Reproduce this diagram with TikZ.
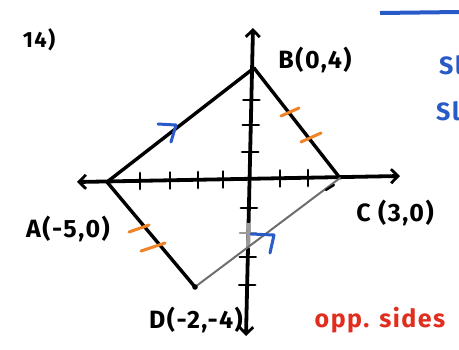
\documentclass[tikz,border=0pt]{standalone}
\usepackage{fontspec}
\setmainfont[LetterSpace=6]{Fira Sans}
\usetikzlibrary{arrows.meta}
\definecolor{penblue}{RGB}{40,90,200}
\definecolor{penorange}{RGB}{240,130,40}
\definecolor{penred}{RGB}{225,45,30}
\definecolor{pengray}{RGB}{110,110,110}
\tikzset{
  axisline/.style={line width=3.8pt, line cap=round, {Straight Barb[length=7pt,width=14pt,line width=2.8pt]}-{Straight Barb[length=7pt,width=14pt,line width=2.8pt]}},
  tickmark/.style={line width=2.8pt, line cap=round},
  side/.style={line width=3.4pt, line cap=round},
  lightside/.style={line width=2pt, pengray, line cap=round},
  hashmark/.style={line width=3pt, penorange, line cap=round},
  arrmark/.style={line width=3pt, penblue, line cap=round, line join=round},
  lbl/.style={inner sep=0pt, font=\bfseries\fontsize{25}{25}\selectfont},
}
\begin{document}
\begin{tikzpicture}[x=1pt,y=-1pt]
\useasboundingbox (0,0) rectangle (459,349);
\fill[white] (0,0) rectangle (459,349);
% axes
\coordinate (xl) at (77,182);
\coordinate (xr) at (400,176);
\coordinate (yt) at (253,28);
\coordinate (yb) at (246,336);
\draw[axisline] (xl) -- (xr);
\draw[axisline] (yb) -- (yt);
% x ticks
\foreach \x/\y in {140/181, 170/180.5, 198/180, 223/179.5, 280/178.5, 308/178} {
  \draw[tickmark] (\x,\y-8) -- (\x,\y+8);
}
% y ticks
\foreach \y in {100,125,152,208,257,285} {
  \pgfmathsetmacro{\xx}{253-7*(\y-28)/308}
  \draw[tickmark] (\xx-8,\y) -- (\xx+8,\y);
}
% gray part of the y axis
\draw[line width=3.8pt, pengray!70] (248.5,223) -- (248,248);
\draw[tickmark, pengray!70] (240,233) -- (256,233);
% vertices
\coordinate (A) at (107,182);
\coordinate (B) at (254,68);
\coordinate (C) at (340,178);
\coordinate (D) at (195,287);
\draw[side] (A) -- (B);
\draw[side] (B) -- (C);
\draw[side] (A) -- (D);
\draw[lightside] (D) -- (C);
\draw[line width=2.2pt, line cap=round] (326,190) -- (334,185);
\fill (D) circle (2.8pt);
% congruence hash marks
\draw[hashmark] (281,116) -- (299,108);
\draw[hashmark] (301,142) -- (321,133);
\draw[hashmark] (129,232) -- (149,225);
\draw[hashmark] (141,251) -- (165,243);
% parallel arrow marks
\draw[arrmark] (158,124) -- (176,125) -- (171,142);
\draw[arrmark] (251,234) -- (274,235) -- (270,253);
% labels
\node[lbl] (lB) at (315,60) {B(0,4)};
\node[lbl] (lA) at (68,229) {A(-5,0)};
\node[lbl] (lC) at (395,213) {C (3,0)};
\node[lbl] (lD) at (196,320) {D(-2,-4)};
\node[lbl, font=\bfseries\fontsize{22}{22}\selectfont] (l14) at (39,40) {14)};
\node[lbl, text=penred] (lopp) at (380,320) {opp. sides};
% cut-off notes at the right
\draw[penblue, line width=4pt] (380,13) -- (459,12);
\begin{scope}
\clip (0,0) rectangle (459,349);
\node[lbl, text=penblue, anchor=west] (s1) at (439,65) {Sl};
\node[lbl, text=penblue, anchor=west] (s2) at (436,111) {Sl};
\end{scope}
\end{tikzpicture}
\end{document}
